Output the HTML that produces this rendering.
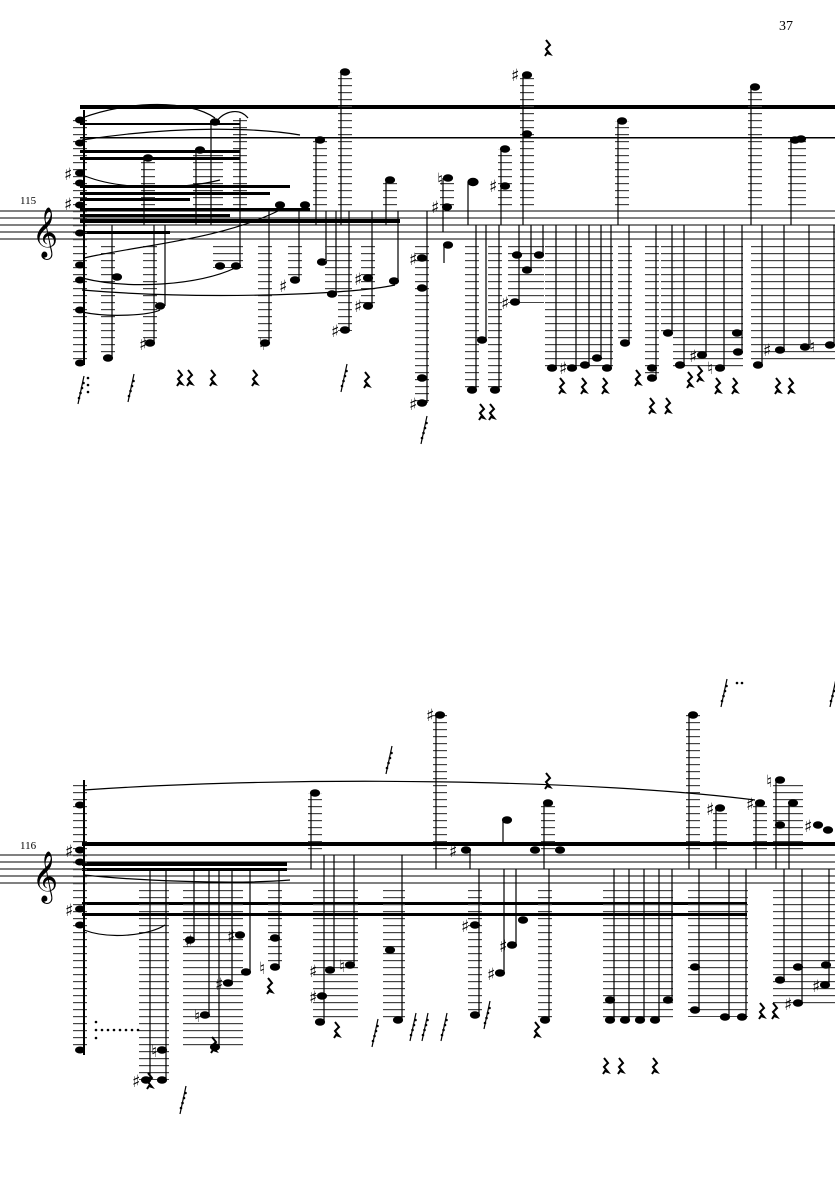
<!DOCTYPE html>
<html><head><meta charset="utf-8"><style>
html,body{margin:0;padding:0;background:#fff}
svg{display:block}
text{font-family:"DejaVu Sans","Liberation Serif",serif;fill:#000}
</style></head><body>
<svg width="835" height="1181" viewBox="0 0 835 1181" xmlns="http://www.w3.org/2000/svg">
<defs>
<pattern id="L" patternUnits="userSpaceOnUse" x="0" y="211" width="20" height="7"><rect x="0" y="0" width="20" height="1.2" fill="#444"/></pattern>
<pattern id="M" patternUnits="userSpaceOnUse" x="0" y="855" width="20" height="7"><rect x="0" y="0" width="20" height="1.2" fill="#444"/></pattern>
<g id="r"><path d="M0,0 l4,5 -4,4 4,5 -3,-1 -2,3" fill="none" stroke="#000" stroke-width="2"/></g>
<g id="g"><line x1="6" y1="-14" x2="0" y2="14" stroke="#000" stroke-width="1.2"/><circle cx="1" cy="8" r="1.3"/><circle cx="2.5" cy="3" r="1.3"/><circle cx="4" cy="-2" r="1.3"/><circle cx="5.5" cy="-7" r="1.3"/></g>
</defs>
<text x="779" y="30" font-size="14" style="font-family:'Liberation Serif',serif">37</text>
<text x="20" y="204" font-size="11" style="font-family:'Liberation Serif',serif">115</text>
<text x="20" y="849" font-size="11" style="font-family:'Liberation Serif',serif">116</text>

<!-- SYSTEM 1 -->
<g stroke="#000" stroke-width="1">
<line x1="0" y1="211" x2="835" y2="211"/><line x1="0" y1="218" x2="835" y2="218"/><line x1="0" y1="225" x2="835" y2="225"/><line x1="0" y1="232" x2="835" y2="232"/><line x1="0" y1="239" x2="835" y2="239"/>
</g>
<text x="32" y="247" font-size="44">𝄞</text>
<g fill="#000">
<rect x="80" y="105" width="755" height="4"/>
<rect x="80" y="137" width="755" height="1.5"/>
<rect x="80" y="123" width="160" height="2"/>
<rect x="80" y="150" width="160" height="3"/><rect x="80" y="157" width="160" height="3"/>
<rect x="80" y="185" width="210" height="3"/><rect x="80" y="192" width="190" height="3"/><rect x="80" y="198" width="110" height="3"/>
<rect x="80" y="208" width="230" height="3"/><rect x="80" y="214" width="150" height="3"/>
<rect x="80" y="219" width="320" height="4"/>
<rect x="80" y="231" width="90" height="3"/>
</g>
<rect x="73" y="117" width="14" height="245" fill="url(#L)"/>
<line x1="84" y1="110" x2="84" y2="365" stroke="#000" stroke-width="2"/>
<g fill="#000">
<ellipse cx="80" cy="120" rx="5" ry="3.5"/><ellipse cx="80" cy="143" rx="5" ry="3.5"/><ellipse cx="80" cy="173" rx="5" ry="3.5"/><ellipse cx="80" cy="183" rx="5" ry="3.5"/><ellipse cx="80" cy="205" rx="5" ry="3.5"/><ellipse cx="80" cy="233" rx="5" ry="3.5"/><ellipse cx="80" cy="265" rx="5" ry="3.5"/><ellipse cx="80" cy="280" rx="5" ry="3.5"/><ellipse cx="80" cy="310" rx="5" ry="3.5"/><ellipse cx="80" cy="363" rx="5" ry="3.5"/>
</g>
<g font-size="17"><text x="64" y="180">♯</text><text x="64" y="210">♯</text></g>
<g stroke="#000" stroke-width="1.2" fill="#000">
<rect x="101" y="243" width="14" height="115" fill="url(#L)" stroke="none"/><line x1="112" y1="225" x2="112" y2="358"/><ellipse cx="108" cy="358" rx="4.5" ry="3.2"/><ellipse cx="117" cy="277" rx="4.5" ry="3.2"/>
<rect x="143" y="243" width="14" height="100" fill="url(#L)" stroke="none"/><line x1="154" y1="225" x2="154" y2="343"/><ellipse cx="150" cy="343" rx="4.5" ry="3.2"/><ellipse cx="160" cy="306" rx="4.5" ry="3.2"/><line x1="165" y1="225" x2="165" y2="306"/>
<rect x="213" y="243" width="30" height="25" fill="url(#L)" stroke="none"/><ellipse cx="220" cy="266" rx="4.5" ry="3.2"/><ellipse cx="236" cy="266" rx="4.5" ry="3.2"/><line x1="240" y1="225" x2="240" y2="266"/>
<rect x="258" y="243" width="14" height="100" fill="url(#L)" stroke="none"/><line x1="269" y1="211" x2="269" y2="343"/><ellipse cx="265" cy="343" rx="4.5" ry="3.2"/>
<rect x="288" y="243" width="14" height="38" fill="url(#L)" stroke="none"/><line x1="299" y1="211" x2="299" y2="280"/><ellipse cx="295" cy="280" rx="4.5" ry="3.2"/>
<line x1="326" y1="211" x2="326" y2="262"/><ellipse cx="322" cy="262" rx="4.5" ry="3.2"/>
<rect x="325" y="243" width="14" height="52" fill="url(#L)" stroke="none"/><line x1="336" y1="211" x2="336" y2="294"/><ellipse cx="332" cy="294" rx="4.5" ry="3.2"/>
<rect x="338" y="243" width="14" height="88" fill="url(#L)" stroke="none"/><line x1="349" y1="211" x2="349" y2="330"/><ellipse cx="345" cy="330" rx="4.5" ry="3.2"/>
<rect x="361" y="243" width="14" height="64" fill="url(#L)" stroke="none"/><line x1="372" y1="211" x2="372" y2="306"/><ellipse cx="368" cy="306" rx="4.5" ry="3.2"/><ellipse cx="368" cy="278" rx="4.5" ry="3.2"/>
<line x1="398" y1="211" x2="398" y2="281"/><ellipse cx="394" cy="281" rx="4.5" ry="3.2"/>
<rect x="415" y="243" width="14" height="160" fill="url(#L)" stroke="none"/><line x1="427" y1="211" x2="427" y2="403"/><ellipse cx="422" cy="403" rx="4.5" ry="3.2"/><ellipse cx="422" cy="378" rx="4.5" ry="3.2"/><ellipse cx="422" cy="288" rx="4.5" ry="3.2"/><ellipse cx="422" cy="258" rx="4.5" ry="3.2"/>
<line x1="444" y1="245" x2="444" y2="263"/><ellipse cx="448" cy="245" rx="4.5" ry="3.2"/>
<rect x="465" y="243" width="14" height="147" fill="url(#L)" stroke="none"/><line x1="476" y1="225" x2="476" y2="390"/><ellipse cx="472" cy="390" rx="4.5" ry="3.2"/>
<rect x="488" y="243" width="14" height="147" fill="url(#L)" stroke="none"/><line x1="499" y1="225" x2="499" y2="390"/><ellipse cx="495" cy="390" rx="4.5" ry="3.2"/><line x1="486" y1="225" x2="486" y2="340"/><ellipse cx="482" cy="340" rx="4.5" ry="3.2"/>
<rect x="508" y="243" width="36" height="60" fill="url(#L)" stroke="none"/><line x1="519" y1="225" x2="519" y2="302"/><ellipse cx="515" cy="302" rx="4.5" ry="3.2"/><ellipse cx="517" cy="255" rx="4.5" ry="3.2"/><ellipse cx="527" cy="270" rx="4.5" ry="3.2"/><line x1="531" y1="225" x2="531" y2="270"/><ellipse cx="539" cy="255" rx="4.5" ry="3.2"/><line x1="543" y1="225" x2="543" y2="255"/>
<rect x="545" y="243" width="68" height="126" fill="url(#L)" stroke="none"/>
<line x1="556" y1="225" x2="556" y2="368"/><ellipse cx="552" cy="368" rx="4.5" ry="3.2"/>
<line x1="576" y1="225" x2="576" y2="368"/><ellipse cx="572" cy="368" rx="4.5" ry="3.2"/>
<line x1="589" y1="225" x2="589" y2="365"/><ellipse cx="585" cy="365" rx="4.5" ry="3.2"/>
<line x1="601" y1="225" x2="601" y2="358"/><ellipse cx="597" cy="358" rx="4.5" ry="3.2"/>
<line x1="611" y1="225" x2="611" y2="368"/><ellipse cx="607" cy="368" rx="4.5" ry="3.2"/>
<rect x="618" y="243" width="14" height="100" fill="url(#L)" stroke="none"/><line x1="629" y1="225" x2="629" y2="343"/><ellipse cx="625" cy="343" rx="4.5" ry="3.2"/>
<rect x="645" y="243" width="14" height="135" fill="url(#L)" stroke="none"/><line x1="656" y1="225" x2="656" y2="378"/><ellipse cx="652" cy="378" rx="4.5" ry="3.2"/><ellipse cx="652" cy="368" rx="4.5" ry="3.2"/>
<rect x="661" y="243" width="14" height="90" fill="url(#L)" stroke="none"/><line x1="672" y1="225" x2="672" y2="333"/><ellipse cx="668" cy="333" rx="4.5" ry="3.2"/>
<rect x="673" y="243" width="70" height="125" fill="url(#L)" stroke="none"/>
<line x1="684" y1="225" x2="684" y2="365"/><ellipse cx="680" cy="365" rx="4.5" ry="3.2"/>
<line x1="706" y1="225" x2="706" y2="355"/><ellipse cx="702" cy="355" rx="4.5" ry="3.2"/>
<line x1="724" y1="225" x2="724" y2="368"/><ellipse cx="720" cy="368" rx="4.5" ry="3.2"/>
<line x1="742" y1="225" x2="742" y2="352"/><ellipse cx="738" cy="352" rx="4.5" ry="3.2"/><ellipse cx="737" cy="333" rx="4.5" ry="3.2"/>
<rect x="751" y="243" width="84" height="122" fill="url(#L)" stroke="none"/>
<line x1="762" y1="225" x2="762" y2="365"/><ellipse cx="758" cy="365" rx="4.5" ry="3.2"/>
<line x1="784" y1="225" x2="784" y2="350"/><ellipse cx="780" cy="350" rx="4.5" ry="3.2"/>
<line x1="809" y1="225" x2="809" y2="347"/><ellipse cx="805" cy="347" rx="4.5" ry="3.2"/>
<line x1="834" y1="225" x2="834" y2="345"/><ellipse cx="830" cy="345" rx="4.5" ry="3.2"/>
</g>
<g stroke="#000" stroke-width="1.2" fill="#000">
<rect x="338" y="72" width="14" height="139" fill="url(#L)" stroke="none"/><line x1="341" y1="72" x2="341" y2="225"/><ellipse cx="345" cy="72" rx="4.5" ry="3.2"/>
<rect x="313" y="140" width="14" height="71" fill="url(#L)" stroke="none"/><line x1="316" y1="140" x2="316" y2="225"/><ellipse cx="320" cy="140" rx="4.5" ry="3.2"/>
<rect x="383" y="180" width="14" height="31" fill="url(#L)" stroke="none"/><line x1="386" y1="180" x2="386" y2="225"/><ellipse cx="390" cy="180" rx="4.5" ry="3.2"/>
<rect x="440" y="178" width="14" height="33" fill="url(#L)" stroke="none"/><line x1="443" y1="178" x2="443" y2="232"/><ellipse cx="448" cy="178" rx="4.5" ry="3.2"/><ellipse cx="447" cy="207" rx="4.5" ry="3.2"/>
<line x1="468" y1="182" x2="468" y2="225"/><ellipse cx="473" cy="182" rx="5" ry="3.6"/>
<rect x="498" y="149" width="14" height="62" fill="url(#L)" stroke="none"/><line x1="501" y1="149" x2="501" y2="225"/><ellipse cx="505" cy="149" rx="4.5" ry="3.2"/><ellipse cx="505" cy="186" rx="4.5" ry="3.2"/>
<rect x="520" y="75" width="14" height="136" fill="url(#L)" stroke="none"/><line x1="523" y1="75" x2="523" y2="225"/><ellipse cx="527" cy="75" rx="4.5" ry="3.2"/><ellipse cx="527" cy="134" rx="4.5" ry="3.2"/>
<rect x="615" y="121" width="14" height="90" fill="url(#L)" stroke="none"/><line x1="618" y1="121" x2="618" y2="225"/><ellipse cx="622" cy="121" rx="4.5" ry="3.2"/>
<rect x="748" y="87" width="14" height="124" fill="url(#L)" stroke="none"/><line x1="751" y1="87" x2="751" y2="225"/><ellipse cx="755" cy="87" rx="4.5" ry="3.2"/>
<rect x="788" y="140" width="18" height="71" fill="url(#L)" stroke="none"/><line x1="791" y1="140" x2="791" y2="225"/><ellipse cx="795" cy="140" rx="4.5" ry="3.2"/><ellipse cx="801" cy="139" rx="4.5" ry="3.2"/>
<rect x="141" y="158" width="14" height="53" fill="url(#L)" stroke="none"/><line x1="144" y1="158" x2="144" y2="225"/><ellipse cx="148" cy="158" rx="4.5" ry="3.2"/>
<rect x="193" y="150" width="30" height="61" fill="url(#L)" stroke="none"/><line x1="196" y1="150" x2="196" y2="225"/><ellipse cx="200" cy="150" rx="4.5" ry="3.2"/><line x1="211" y1="122" x2="211" y2="225"/><ellipse cx="215" cy="122" rx="4.5" ry="3.2"/>
<rect x="233" y="118" width="14" height="93" fill="url(#L)" stroke="none"/><line x1="240" y1="118" x2="240" y2="225"/>
<ellipse cx="280" cy="205" rx="4.5" ry="3.2"/><ellipse cx="305" cy="205" rx="4.5" ry="3.2"/>
</g>
<g font-size="17"><text x="511" y="81">♯</text><text x="431" y="213">♯</text><text x="437" y="185">♮</text><text x="489" y="192">♯</text>
<text x="279" y="292">♯</text><text x="331" y="337">♯</text><text x="354" y="312">♯</text><text x="354" y="285">♯</text><text x="139" y="350">♯</text><text x="409" y="410">♯</text><text x="409" y="265">♯</text><text x="501" y="309">♯</text><text x="259" y="350">♮</text><text x="559" y="374">♯</text><text x="689" y="362">♯</text><text x="707" y="374">♮</text><text x="763" y="356">♯</text><text x="809" y="352">♮</text></g>
<g fill="none" stroke="#000" stroke-width="1.2">
<path d="M82,118 C130,100 190,100 215,118"/><path d="M82,140 C180,125 260,128 300,135"/><path d="M85,176 C120,190 180,190 220,180"/><path d="M82,278 C130,290 200,285 235,268"/><path d="M82,290 C200,300 350,295 395,285"/><path d="M82,312 C110,318 150,315 160,310"/><path d="M84,258 C140,245 220,240 280,210"/><path d="M216,122 C225,110 240,108 248,118"/>
</g>
<g>
<use href="#r" x="178" y="370"/><use href="#r" x="188" y="370"/><use href="#r" x="211" y="370"/><use href="#r" x="253" y="370"/><use href="#r" x="365" y="372"/>
<use href="#r" x="560" y="378"/><use href="#r" x="582" y="378"/><use href="#r" x="603" y="378"/><use href="#r" x="636" y="370"/><use href="#r" x="650" y="398"/><use href="#r" x="666" y="398"/><use href="#r" x="688" y="372"/><use href="#r" x="698" y="366"/><use href="#r" x="716" y="378"/><use href="#r" x="733" y="378"/><use href="#r" x="776" y="378"/><use href="#r" x="789" y="378"/><use href="#r" x="480" y="404"/><use href="#r" x="490" y="404"/><use href="#r" x="546" y="40"/>
<use href="#g" x="78" y="390"/><use href="#g" x="128" y="388"/><use href="#g" x="341" y="378"/><use href="#g" x="421" y="430"/>
</g>

<!-- SYSTEM 2 -->
<g stroke="#000" stroke-width="1">
<line x1="0" y1="855" x2="835" y2="855"/><line x1="0" y1="862" x2="835" y2="862"/><line x1="0" y1="869" x2="835" y2="869"/><line x1="0" y1="876" x2="835" y2="876"/><line x1="0" y1="883" x2="835" y2="883"/>
</g>
<text x="32" y="891" font-size="44">𝄞</text>
<g fill="#000">
<rect x="82" y="842" width="753" height="4"/>
<rect x="82" y="862" width="205" height="4"/><rect x="82" y="868" width="205" height="3"/>
<rect x="82" y="902" width="665" height="3"/><rect x="82" y="913" width="665" height="3"/>
</g>
<rect x="73" y="780" width="14" height="270" fill="url(#M)"/>
<line x1="84" y1="780" x2="84" y2="1055" stroke="#000" stroke-width="2"/>
<g fill="#000"><ellipse cx="80" cy="805" rx="5" ry="3.5"/><ellipse cx="80" cy="850" rx="5" ry="3.5"/><ellipse cx="80" cy="862" rx="5" ry="3.5"/><ellipse cx="80" cy="909" rx="5" ry="3.5"/><ellipse cx="80" cy="925" rx="5" ry="3.5"/><ellipse cx="80" cy="1050" rx="5" ry="3.5"/></g>
<g font-size="17"><text x="65" y="857">♯</text><text x="65" y="916">♯</text></g>
<g stroke="#000" stroke-width="1.2" fill="#000">
<rect x="139" y="887" width="30" height="193" fill="url(#M)" stroke="none"/><line x1="150" y1="870" x2="150" y2="1080"/><ellipse cx="146" cy="1080" rx="4.5" ry="3.2"/><line x1="166" y1="870" x2="166" y2="1080"/><ellipse cx="162" cy="1080" rx="4.5" ry="3.2"/><ellipse cx="162" cy="1050" rx="4.5" ry="3.2"/>
<rect x="183" y="887" width="60" height="160" fill="url(#M)" stroke="none"/>
<line x1="194" y1="870" x2="194" y2="940"/><ellipse cx="190" cy="940" rx="4.5" ry="3.2"/>
<line x1="209" y1="870" x2="209" y2="1015"/><ellipse cx="205" cy="1015" rx="4.5" ry="3.2"/>
<line x1="219" y1="870" x2="219" y2="1047"/><ellipse cx="215" cy="1047" rx="4.5" ry="3.2"/>
<line x1="232" y1="870" x2="232" y2="983"/><ellipse cx="228" cy="983" rx="4.5" ry="3.2"/>
<line x1="250" y1="870" x2="250" y2="972"/><ellipse cx="246" cy="972" rx="4.5" ry="3.2"/><ellipse cx="240" cy="935" rx="4.5" ry="3.2"/>
<rect x="268" y="887" width="14" height="80" fill="url(#M)" stroke="none"/><line x1="279" y1="870" x2="279" y2="967"/><ellipse cx="275" cy="967" rx="4.5" ry="3.2"/><ellipse cx="275" cy="938" rx="4.5" ry="3.2"/>
<rect x="313" y="887" width="45" height="135" fill="url(#M)" stroke="none"/>
<line x1="324" y1="855" x2="324" y2="1022"/><ellipse cx="320" cy="1022" rx="4.5" ry="3.2"/><ellipse cx="322" cy="996" rx="4.5" ry="3.2"/>
<line x1="334" y1="855" x2="334" y2="970"/><ellipse cx="330" cy="970" rx="4.5" ry="3.2"/>
<line x1="354" y1="855" x2="354" y2="965"/><ellipse cx="350" cy="965" rx="4.5" ry="3.2"/>
<rect x="383" y="887" width="22" height="133" fill="url(#M)" stroke="none"/><line x1="402" y1="855" x2="402" y2="1020"/><ellipse cx="398" cy="1020" rx="4.5" ry="3.2"/><ellipse cx="390" cy="950" rx="4.5" ry="3.2"/>
<rect x="468" y="887" width="14" height="128" fill="url(#M)" stroke="none"/><line x1="479" y1="869" x2="479" y2="1015"/><ellipse cx="475" cy="1015" rx="4.5" ry="3.2"/><ellipse cx="475" cy="925" rx="4.5" ry="3.2"/>
<line x1="504" y1="869" x2="504" y2="973"/><ellipse cx="500" cy="973" rx="4.5" ry="3.2"/>
<line x1="516" y1="869" x2="516" y2="945"/><ellipse cx="512" cy="945" rx="4.5" ry="3.2"/><ellipse cx="523" cy="920" rx="4.5" ry="3.2"/>
<rect x="538" y="887" width="14" height="133" fill="url(#M)" stroke="none"/><line x1="549" y1="869" x2="549" y2="1020"/><ellipse cx="545" cy="1020" rx="4.5" ry="3.2"/>
<rect x="603" y="887" width="70" height="133" fill="url(#M)" stroke="none"/>
<line x1="614" y1="869" x2="614" y2="1020"/><ellipse cx="610" cy="1020" rx="4.5" ry="3.2"/><ellipse cx="610" cy="1000" rx="4.5" ry="3.2"/>
<line x1="629" y1="869" x2="629" y2="1020"/><ellipse cx="625" cy="1020" rx="4.5" ry="3.2"/>
<line x1="644" y1="869" x2="644" y2="1020"/><ellipse cx="640" cy="1020" rx="4.5" ry="3.2"/>
<line x1="659" y1="869" x2="659" y2="1020"/><ellipse cx="655" cy="1020" rx="4.5" ry="3.2"/>
<line x1="672" y1="869" x2="672" y2="1000"/><ellipse cx="668" cy="1000" rx="4.5" ry="3.2"/>
<rect x="688" y="887" width="60" height="130" fill="url(#M)" stroke="none"/>
<line x1="699" y1="869" x2="699" y2="1010"/><ellipse cx="695" cy="1010" rx="4.5" ry="3.2"/><ellipse cx="695" cy="967" rx="4.5" ry="3.2"/>
<line x1="729" y1="869" x2="729" y2="1017"/><ellipse cx="725" cy="1017" rx="4.5" ry="3.2"/>
<line x1="746" y1="869" x2="746" y2="1017"/><ellipse cx="742" cy="1017" rx="4.5" ry="3.2"/>
<rect x="773" y="887" width="62" height="118" fill="url(#M)" stroke="none"/>
<line x1="784" y1="869" x2="784" y2="980"/><ellipse cx="780" cy="980" rx="4.5" ry="3.2"/>
<line x1="802" y1="869" x2="802" y2="1003"/><ellipse cx="798" cy="1003" rx="4.5" ry="3.2"/><ellipse cx="798" cy="967" rx="4.5" ry="3.2"/>
<line x1="829" y1="869" x2="829" y2="985"/><ellipse cx="825" cy="985" rx="4.5" ry="3.2"/><ellipse cx="826" cy="965" rx="4.5" ry="3.2"/>
<rect x="308" y="793" width="14" height="62" fill="url(#M)" stroke="none"/><line x1="311" y1="793" x2="311" y2="869"/><ellipse cx="315" cy="793" rx="4.5" ry="3.2"/>
<rect x="433" y="715" width="14" height="140" fill="url(#M)" stroke="none"/><line x1="436" y1="715" x2="436" y2="869"/><ellipse cx="440" cy="715" rx="4.5" ry="3.2"/>
<ellipse cx="466" cy="850" rx="4.5" ry="3.2"/><line x1="470" y1="850" x2="470" y2="869"/>
<line x1="503" y1="820" x2="503" y2="845"/><ellipse cx="507" cy="820" rx="4.5" ry="3.2"/>
<rect x="541" y="803" width="14" height="52" fill="url(#M)" stroke="none"/><line x1="544" y1="803" x2="544" y2="869"/><ellipse cx="548" cy="803" rx="4.5" ry="3.2"/>
<ellipse cx="535" cy="850" rx="4.5" ry="3.2"/><ellipse cx="560" cy="850" rx="4.5" ry="3.2"/>
<rect x="686" y="715" width="14" height="140" fill="url(#M)" stroke="none"/><line x1="689" y1="715" x2="689" y2="869"/><ellipse cx="693" cy="715" rx="4.5" ry="3.2"/>
<rect x="713" y="808" width="14" height="47" fill="url(#M)" stroke="none"/><line x1="716" y1="808" x2="716" y2="869"/><ellipse cx="720" cy="808" rx="4.5" ry="3.2"/>
<rect x="753" y="803" width="14" height="52" fill="url(#M)" stroke="none"/><line x1="756" y1="803" x2="756" y2="869"/><ellipse cx="760" cy="803" rx="4.5" ry="3.2"/>
<rect x="773" y="780" width="30" height="75" fill="url(#M)" stroke="none"/><line x1="776" y1="780" x2="776" y2="869"/><ellipse cx="780" cy="780" rx="4.5" ry="3.2"/><ellipse cx="780" cy="825" rx="4.5" ry="3.2"/><line x1="789" y1="803" x2="789" y2="869"/><ellipse cx="793" cy="803" rx="4.5" ry="3.2"/>
<ellipse cx="818" cy="825" rx="4.5" ry="3.2"/><ellipse cx="828" cy="830" rx="4.5" ry="3.2"/>
</g>
<g font-size="17"><text x="426" y="721">♯</text><text x="449" y="857">♯</text><text x="706" y="815">♯</text><text x="746" y="810">♯</text><text x="766" y="787">♮</text><text x="804" y="832">♯</text><text x="185" y="947">♯</text><text x="227" y="942">♯</text><text x="309" y="977">♯</text><text x="339" y="972">♮</text><text x="309" y="1003">♯</text><text x="487" y="980">♯</text><text x="499" y="952">♯</text><text x="151" y="1057">♮</text><text x="132" y="1087">♯</text><text x="215" y="990">♯</text><text x="259" y="974">♮</text><text x="461" y="932">♯</text><text x="784" y="1010">♯</text><text x="812" y="992">♯</text><text x="194" y="1022">♮</text></g>
<g fill="none" stroke="#000" stroke-width="1.2">
<path d="M84,790 C300,775 600,780 755,800"/><path d="M84,930 C110,940 150,935 165,925"/><path d="M84,875 C130,880 230,885 290,880"/>
</g>
<g>
<use href="#r" x="148" y="1073"/><use href="#r" x="212" y="1037"/><use href="#r" x="268" y="978"/><use href="#r" x="335" y="1022"/><use href="#r" x="535" y="1022"/><use href="#r" x="604" y="1058"/><use href="#r" x="619" y="1058"/><use href="#r" x="653" y="1058"/><use href="#r" x="760" y="1003"/><use href="#r" x="773" y="1003"/><use href="#r" x="546" y="773"/>
<use href="#g" x="180" y="1100"/><use href="#g" x="386" y="760"/><use href="#g" x="372" y="1033"/><use href="#g" x="410" y="1027"/><use href="#g" x="422" y="1027"/><use href="#g" x="441" y="1027"/><use href="#g" x="484" y="1015"/><use href="#g" x="721" y="693"/><use href="#g" x="830" y="693"/>
</g>
<g fill="#000"><circle cx="96" cy="1030" r="1.3"/><circle cx="102" cy="1030" r="1.3"/><circle cx="108" cy="1030" r="1.3"/><circle cx="114" cy="1030" r="1.3"/><circle cx="120" cy="1030" r="1.3"/><circle cx="126" cy="1030" r="1.3"/><circle cx="132" cy="1030" r="1.3"/><circle cx="138" cy="1030" r="1.3"/><circle cx="96" cy="1038" r="1.3"/><circle cx="96" cy="1022" r="1.3"/><circle cx="737" cy="683" r="1.3"/><circle cx="742" cy="683" r="1.3"/><circle cx="88" cy="378" r="1.3"/><circle cx="88" cy="385" r="1.3"/><circle cx="88" cy="392" r="1.3"/></g>
</svg>
</body></html>
